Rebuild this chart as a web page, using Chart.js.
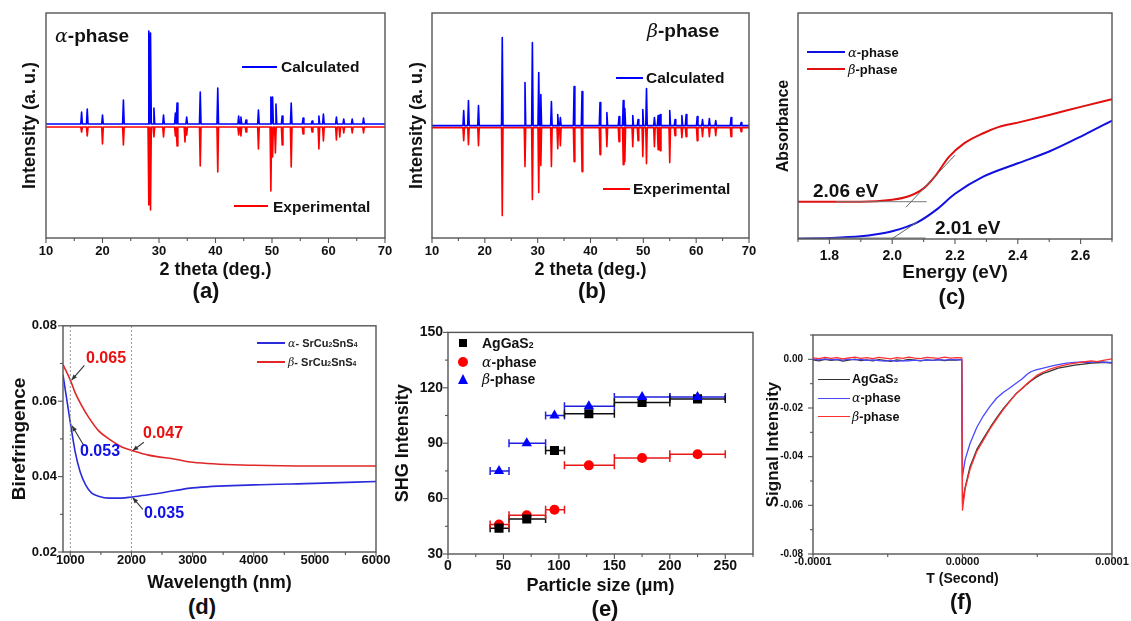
<!DOCTYPE html>
<html><head><meta charset="utf-8">
<script src="https://cdn.jsdelivr.net/npm/chart.js@4.4.1/dist/chart.umd.min.js"></script>
<style>
body{margin:0;width:1131px;height:621px;background:#fff;position:relative;overflow:hidden;font-family:'Liberation Sans',Arial,sans-serif}
canvas{position:absolute}
.t{position:absolute;white-space:nowrap;font-weight:bold;line-height:1;color:#111}
.g{font-family:'DejaVu Serif',serif;font-style:italic;font-weight:normal}
.s{font-size:0.62em}
.ln{position:absolute;height:0;border-top:2px solid}
.pl{position:absolute;font-weight:bold;font-size:22px;line-height:1;transform:translateX(-50%);color:#111}
</style></head><body>
<canvas id="ca" width="382" height="278" style="left:19px;top:3px"></canvas>
<canvas id="cb" width="359" height="278" style="left:406px;top:3px"></canvas>
<canvas id="cc" width="355" height="281" style="left:774px;top:3px"></canvas>
<canvas id="cd" width="388" height="282" style="left:8px;top:312px"></canvas>
<canvas id="ce" width="379" height="278" style="left:392px;top:319px"></canvas>
<canvas id="cf" width="368" height="269" style="left:763px;top:319px"></canvas>

<!-- (a) -->
<div class="t" style="left:55px;top:25.6px;font-size:19px"><span class="g">α</span>-phase</div>
<div class="ln" style="left:242px;top:66px;width:35px;border-color:#0000ff"></div>
<div class="t" style="left:281px;top:58.6px;font-size:15.5px">Calculated</div>
<div class="ln" style="left:234px;top:205px;width:34px;border-color:#ff0000"></div>
<div class="t" style="left:273px;top:198.6px;font-size:15.5px">Experimental</div>
<!-- (b) -->
<div class="t" style="left:647px;top:21.2px;font-size:19px"><span class="g">β</span>-phase</div>
<div class="ln" style="left:616px;top:76.7px;width:27px;border-color:#0000ff"></div>
<div class="t" style="left:646px;top:69.6px;font-size:15.5px">Calculated</div>
<div class="ln" style="left:603px;top:188px;width:27px;border-color:#ff0000"></div>
<div class="t" style="left:633px;top:180.9px;font-size:15.5px">Experimental</div>
<!-- (c) -->
<div class="ln" style="left:807px;top:50.7px;width:38px;border-color:#1010e0"></div>
<div class="t" style="left:848px;top:45.5px;font-size:13px"><span class="g">α</span>-phase</div>
<div class="ln" style="left:807px;top:68px;width:38px;border-color:#e01010"></div>
<div class="t" style="left:848px;top:62.8px;font-size:13px"><span class="g">β</span>-phase</div>
<div class="t" style="left:813px;top:181.2px;font-size:19px">2.06 eV</div>
<div class="t" style="left:935px;top:218.2px;font-size:19px">2.01 eV</div>
<!-- (d) -->
<div class="ln" style="left:257px;top:342px;width:28px;border-color:#2b2bdb"></div>
<div class="t" style="left:288px;top:337.7px;font-size:11px;color:#222"><span class="g">α</span>- SrCu<span class="s">2</span>SnS<span class="s">4</span></div>
<div class="ln" style="left:257px;top:361px;width:28px;border-color:#e02828"></div>
<div class="t" style="left:288px;top:356.7px;font-size:11px;color:#222"><span class="g">β</span>- SrCu<span class="s">2</span>SnS<span class="s">4</span></div>
<div class="t" style="left:86px;top:350px;font-size:16px;color:#e81010">0.065</div>
<div class="t" style="left:143px;top:425px;font-size:16px;color:#e81010">0.047</div>
<div class="t" style="left:80px;top:443px;font-size:16px;color:#1010e8">0.053</div>
<div class="t" style="left:144px;top:505px;font-size:16px;color:#1010e8">0.035</div>
<!-- (e) -->
<div style="position:absolute;left:459px;top:339px;width:8px;height:8px;background:#000"></div>
<div class="t" style="left:482px;top:336.3px;font-size:14px">AgGaS<span class="s">2</span></div>
<div style="position:absolute;left:458px;top:357px;width:10px;height:10px;border-radius:50%;background:#ff0000"></div>
<div class="t" style="left:482px;top:355.3px;font-size:14px"><span class="g">α</span>-phase</div>
<div style="position:absolute;left:458px;top:374px;width:0;height:0;border-left:5.5px solid transparent;border-right:5.5px solid transparent;border-bottom:10px solid #0000ff"></div>
<div class="t" style="left:482px;top:372.3px;font-size:14px"><span class="g">β</span>-phase</div>
<!-- (f) -->
<div class="ln" style="left:818px;top:378.5px;width:32px;border-color:#333;border-top-width:1.5px"></div>
<div class="t" style="left:852px;top:373.3px;font-size:12.5px">AgGaS<span class="s">2</span></div>
<div class="ln" style="left:818px;top:397.5px;width:32px;border-color:#4848ff;border-top-width:1.5px"></div>
<div class="t" style="left:852px;top:392.3px;font-size:12.5px"><span class="g">α</span>-phase</div>
<div class="ln" style="left:818px;top:416px;width:32px;border-color:#ff3030;border-top-width:1.5px"></div>
<div class="t" style="left:852px;top:410.7px;font-size:12.5px"><span class="g">β</span>-phase</div>
<!-- panel labels -->
<div class="pl" style="left:206px;top:280px">(a)</div>
<div class="pl" style="left:592px;top:280px">(b)</div>
<div class="pl" style="left:952px;top:286px">(c)</div>
<div class="pl" style="left:202px;top:596px">(d)</div>
<div class="pl" style="left:605px;top:598px">(e)</div>
<div class="pl" style="left:961px;top:591px">(f)</div>

<script>
// ---------------- DATA ----------------
// (a) alpha-phase XRD peaks: 2theta positions and heights (arb. units)
const aCalcPos = [16.3,17.3,20.0,23.7,28.2,28.5,29.1,30.8,32.9,33.2,34.9,37.3,40.4,44.1,44.5,45.4,47.6,49.8,50.1,50.7,51.8,53.4,55.5,57.1,58.3,59.1,61.4,62.7,64.2,66.2];
const aCalcInt = [12,15,9,24,93,91,16,9,11,21,7,32,36,8,7,4,14,27,27,20,8,21,6,3,8,10,7,5,5,6];
const aExpPos  = [16.3,17.3,20.0,23.7,28.2,28.5,29.1,30.8,32.9,33.2,34.6,34.9,37.3,40.4,44.1,44.5,45.4,47.6,49.8,50.1,50.6,51.8,53.4,55.5,57.1,58.3,59.1,61.4,62.0,62.7,64.2,66.2];
const aExpInt  = [5,9,17,18,78,83,10,10,9,19,15,8,39,45,8,9,5,22,64,30,26,18,40,7,5,22,14,13,10,6,6,6];
// (b) beta-phase XRD peaks
const bPos     = [16.0,16.9,18.8,23.3,27.6,29.0,30.2,30.6,32.6,33.8,34.3,36.9,38.4,41.8,43.1,45.4,46.2,46.5,48.0,49.0,49.9,50.6,52.1,52.8,53.2,55.0,56.0,57.3,58.1,60.2,61.2,62.5,63.7,66.6,68.5];
const bCalcInt = [15,25,20,88,43,83,53,31,24,11,8,39,34,23,13,9,25,17,10,6,16,37,8,10,11,15,6,10,11,9,6,7,5,8,3];
const bExpInt  = [13,17,18,88,39,72,65,38,39,21,18,34,44,27,19,14,37,34,19,13,29,36,19,22,23,35,8,10,9,13,9,9,8,9,4];
const xrdTicks = [10,20,30,40,50,60,70];
const xrdMinor = [15,25,35,45,55,65];
// (c) absorbance vs energy
const cBetaE  = [1.70,1.90,2.00,2.05,2.10,2.14,2.18,2.23,2.29,2.34,2.40,2.50,2.61,2.70];
const cBetaA  = [0.165,0.165,0.174,0.188,0.224,0.284,0.362,0.424,0.468,0.496,0.515,0.549,0.588,0.618];
const cAlphaE = [1.70,1.80,1.90,1.95,2.00,2.05,2.08,2.14,2.20,2.29,2.40,2.50,2.61,2.70];
const cAlphaA = [0.0015,0.0044,0.0118,0.0206,0.034,0.056,0.0735,0.129,0.200,0.276,0.335,0.387,0.460,0.524];
const cBetaBaseE = [1.82,2.11],  cBetaBaseA = [0.165,0.165];
const cBetaTanE  = [2.044,2.20], cBetaTanA  = [0.141,0.371];
const cAlphaBaseE = [1.70,2.106], cAlphaBaseA = [0.0044,0.0044];
const cAlphaTanE  = [1.998,2.078], cAlphaTanA = [0.0,0.0735];
const cTicks = [1.8,2.0,2.2,2.4,2.6];
const cMinor = [1.7,1.9,2.1,2.3,2.5,2.7];
// (d) birefringence vs wavelength
const dWaveAlpha = [880,1000,1080,1160,1250,1350,1460,1630,1850,2000,2280,2720,3000,4000,5000,6000];
const dAlpha     = [0.0670,0.0543,0.0465,0.0413,0.0378,0.0356,0.0348,0.0343,0.0343,0.0346,0.0352,0.0363,0.0370,0.0378,0.0382,0.0387];
const dWaveBeta  = [880,1000,1080,1190,1300,1460,1630,1850,2000,2280,2720,3000,4000,5000,6000];
const dBeta      = [0.0697,0.0656,0.0622,0.0587,0.0557,0.0522,0.0500,0.0478,0.0470,0.0457,0.0446,0.0438,0.0430,0.0428,0.0428];
const dMarks = [1000,2000];
const dArrows = [ // [fromX, fromY, toX, toY]
  [1230,0.0695,1020,0.0656],
  [1218,0.0483,1028,0.0535],
  [2202,0.0491,2021,0.0469],
  [2186,0.0313,2021,0.0344]
];
const dXTicks = [1000,2000,3000,4000,5000,6000], dXMinor = [1500,2500,3500,4500,5500];
const dYTicks = [0.02,0.04,0.06,0.08], dYMinor = [0.03,0.05,0.07];
// (e) SHG intensity vs particle size
const eSize = [46,71,96,127,175,225];
const eLow  = [38,55,88,105,150,200];
const eHigh = [55,88,105,150,200,250];
const eAgGaS2 = [44,49,86,106,112,114];
const eAlpha  = [46,51,54,78,82,84];
const eBeta   = [75,90,105,110,115,115];
const eXTicks = [0,50,100,150,200,250], eXMinor = [25,75,125,175,225,275];
const eYTicks = [30,60,90,120,150], eYMinor = [45,75,105,135];
// (f) signal intensity vs time (time in microseconds)
const fTimeUs = [-100,-96,-92,-88,-84,-80,-76,-72,-68,-64,-60,-56,-52,-48,-44,-40,-36,-32,-28,-24,-20,-16,-12,-8,-4,-0.5,
                 0,1.8,5.1,9.6,14.0,18.5,22.9,27.4,31.8,36.3,40,43.0,46,49.7,54,58.6,64,69.7,75,80.8,86,90,95,100];
const fAgGaS2 = [-0.0002,-0.0006,0.0000,-0.0004,-0.0001,-0.0007,-0.0003,0.0001,-0.0005,-0.0002,-0.0006,-0.0001,-0.0004,-0.0008,-0.0002,-0.0005,0.0000,-0.0003,-0.0006,-0.0002,-0.0004,-0.0001,-0.0005,-0.0002,-0.0003,0.0000,
                 -0.0592,-0.0525,-0.0440,-0.0370,-0.0325,-0.0280,-0.0240,-0.0202,-0.0170,-0.0138,-0.0120,-0.0103,-0.0088,-0.0072,-0.0058,-0.0048,-0.0036,-0.0030,-0.0024,-0.0020,-0.0016,-0.0014,-0.0012,-0.0015];
const fAlpha  = [0.0001,-0.0002,0.0002,-0.0001,0.0000,-0.0003,0.0001,-0.0002,0.0000,-0.0004,-0.0002,-0.0005,-0.0007,-0.0004,-0.0008,-0.0005,-0.0006,-0.0003,-0.0005,-0.0002,-0.0004,-0.0001,-0.0003,0.0000,-0.0002,-0.0001,
                 -0.0480,-0.0411,-0.0345,-0.0279,-0.0232,-0.0192,-0.0159,-0.0135,-0.0117,-0.0096,-0.0080,-0.0062,-0.0050,-0.0042,-0.0036,-0.0029,-0.0022,-0.0016,-0.0013,-0.0011,-0.0012,-0.0009,-0.0012,-0.0013];
const fBeta   = [0.0006,0.0003,0.0008,0.0004,0.0007,0.0002,0.0006,0.0009,0.0004,0.0007,0.0003,0.0008,0.0005,0.0002,0.0007,0.0004,0.0009,0.0005,0.0003,0.0008,0.0006,0.0004,0.0009,0.0005,0.0007,0.0006,
                 -0.0620,-0.0531,-0.0451,-0.0378,-0.0332,-0.0285,-0.0245,-0.0206,-0.0172,-0.0139,-0.0118,-0.0100,-0.0085,-0.0066,-0.0052,-0.0040,-0.0030,-0.0022,-0.0016,-0.0011,-0.0006,-0.0009,-0.0003,0.0002];
const fXTicks = [-0.0001,0,0.0001], fXMinor = [-0.00005,0.00005];
const fYTicks = [-0.08,-0.06,-0.04,-0.02,0.00], fYMinor = [-0.07,-0.05,-0.03,-0.01,0.01];

// ---------------- RENDERING ----------------
const FONT = "'Liberation Sans', Arial, Helvetica, sans-serif";
Chart.defaults.font.family = FONT;
Chart.defaults.animation = false;
Chart.defaults.responsive = false;
Chart.defaults.plugins.legend.display = false;
Chart.defaults.plugins.tooltip.enabled = false;
Chart.defaults.elements.point.radius = 0;

const pts = (xs, ys) => xs.map((x, i) => ({x, y: ys[i]}));
const SPIKE_W = 0.14;
function spikes(pos, h, base, sign) {
  const p = [{x: 10, y: base}];
  pos.forEach((c, i) => { p.push({x: c - SPIKE_W, y: base}, {x: c, y: base + sign * h[i]}, {x: c + SPIKE_W, y: base}); });
  p.push({x: 70, y: base});
  return p;
}
function axX(o) {
  return {type: 'linear', position: 'bottom', min: o.min, max: o.max,
    afterFit: s => { s.height = o.size; },
    afterBuildTicks: s => { s.ticks = (o.ticks || []).map(v => ({value: v})); },
    grid: {display: false, drawTicks: false}, border: {display: false},
    ticks: {display: !!o.ticks, padding: o.pad || 0, autoSkip: false, maxRotation: 0, color: '#111',
      font: {size: o.fs || 12, weight: 'bold'}, callback: o.fmt || (v => v)},
    title: {display: true, text: o.title, color: '#111', padding: 0, font: {size: o.tfs, weight: 'bold'}}};
}
function axY(o) {
  return {type: 'linear', position: 'left', min: o.min, max: o.max,
    afterFit: s => { s.width = o.size; },
    afterBuildTicks: s => { s.ticks = (o.ticks || []).map(v => ({value: v})); },
    grid: {display: false, drawTicks: false}, border: {display: false},
    ticks: {display: !!o.ticks, padding: o.pad || 0, autoSkip: false, color: '#111',
      font: {size: o.fs || 12, weight: 'bold'}, callback: o.fmt || (v => v)},
    title: {display: true, text: o.title, color: '#111', padding: 0, font: {size: o.tfs, weight: 'bold'}}};
}
function frame(t) {
  return {id: 'frame', afterDatasetsDraw(chart) {
    const {ctx, chartArea: a, scales: {x, y}} = chart;
    ctx.save();
    ctx.strokeStyle = '#555'; ctx.lineWidth = 1.4;
    ctx.strokeRect(a.left, a.top, a.right - a.left, a.bottom - a.top);
    ctx.lineWidth = 1.1;
    const tk = (vals, len, hz) => (vals || []).forEach(v => {
      ctx.beginPath();
      if (hz) { const p = x.getPixelForValue(v); ctx.moveTo(p, a.bottom); ctx.lineTo(p, a.bottom + len); }
      else { const p = y.getPixelForValue(v); ctx.moveTo(a.left, p); ctx.lineTo(a.left - len, p); }
      ctx.stroke();
    });
    tk(t.xMaj, 5, true); tk(t.xMin, 3, true); tk(t.yMaj, 5, false); tk(t.yMin, 3, false);
    ctx.restore();
  }};
}
const layout = r => ({padding: {top: 10, right: r, left: 0, bottom: 0}});
const line = (data, color, w, extra) => Object.assign({data, borderColor: color, borderWidth: w, pointRadius: 0, fill: false, tension: 0, borderJoinStyle: 'round'}, extra || {});

// (a)
new Chart(document.getElementById('ca'), {type: 'line',
  data: {datasets: [
    line(spikes(aCalcPos, aCalcInt, 0, 1), '#0000ff', 1.6),
    line(spikes(aExpPos, aExpInt, -3, -1), '#ff0000', 1.6)]},
  options: {layout: layout(16), scales: {
    x: axX({min: 10, max: 70, size: 43, ticks: xrdTicks, pad: 6, fs: 13, title: '2 theta (deg.)', tfs: 18}),
    y: axY({min: -114, max: 111, size: 27, title: 'Intensity (a. u.)', tfs: 18})}},
  plugins: [frame({xMaj: xrdTicks, xMin: xrdMinor})]});

// (b)
new Chart(document.getElementById('cb'), {type: 'line',
  data: {datasets: [
    line(spikes(bPos, bCalcInt, 0, 1), '#0000ff', 1.6),
    line(spikes(bPos, bExpInt, -2, -1), '#ff0000', 1.6)]},
  options: {layout: layout(16), scales: {
    x: axX({min: 10, max: 70, size: 43, ticks: xrdTicks, pad: 6, fs: 13, title: '2 theta (deg.)', tfs: 18}),
    y: axY({min: -112.4, max: 112.6, size: 26, title: 'Intensity (a. u.)', tfs: 18})}},
  plugins: [frame({xMaj: xrdTicks, xMin: xrdMinor})]});

// (c)
new Chart(document.getElementById('cc'), {type: 'line',
  data: {datasets: [
    line(pts(cBetaTanE, cBetaTanA), '#666', 1),
    line(pts(cAlphaTanE, cAlphaTanA), '#666', 1),
    line(pts(cBetaBaseE, cBetaBaseA), '#777', 1),
    line(pts(cAlphaBaseE, cAlphaBaseA), '#777', 1),
    line(pts(cBetaE, cBetaA), '#e01010', 2, {cubicInterpolationMode: 'monotone'}),
    line(pts(cAlphaE, cAlphaA), '#1010e0', 2, {cubicInterpolationMode: 'monotone'})]},
  options: {layout: layout(17), scales: {
    x: axX({min: 1.7, max: 2.7, size: 45, ticks: cTicks, pad: 9, fs: 14, fmt: v => v.toFixed(1), title: 'Energy (eV)', tfs: 19}),
    y: axY({min: 0, max: 1, size: 24, title: 'Absorbance', tfs: 16})}},
  plugins: [frame({xMaj: cTicks, xMin: cMinor})]});

// (d)
const arrowPlugin = {id: 'arrows', afterDatasetsDraw(chart) {
  const {ctx, scales: {x, y}} = chart;
  ctx.save(); ctx.strokeStyle = '#333'; ctx.fillStyle = '#333'; ctx.lineWidth = 1.1;
  dArrows.forEach(([fx, fy, tx, ty]) => {
    const x1 = x.getPixelForValue(fx), y1 = y.getPixelForValue(fy), x2 = x.getPixelForValue(tx), y2 = y.getPixelForValue(ty);
    const ang = Math.atan2(y2 - y1, x2 - x1);
    ctx.beginPath(); ctx.moveTo(x1, y1); ctx.lineTo(x2, y2); ctx.stroke();
    ctx.beginPath(); ctx.moveTo(x2, y2);
    ctx.lineTo(x2 - 6 * Math.cos(ang - 0.4), y2 - 6 * Math.sin(ang - 0.4));
    ctx.lineTo(x2 - 6 * Math.cos(ang + 0.4), y2 - 6 * Math.sin(ang + 0.4));
    ctx.closePath(); ctx.fill();
  });
  ctx.restore();
}};
new Chart(document.getElementById('cd'), {type: 'line',
  data: {datasets: [
    ...dMarks.map(m => line([{x: m, y: 0.02}, {x: m, y: 0.08}], '#999', 1, {borderDash: [2, 2]})),
    line(pts(dWaveBeta, dBeta), '#e02828', 1.6, {cubicInterpolationMode: 'monotone'}),
    line(pts(dWaveAlpha, dAlpha), '#2b2bdb', 1.6, {cubicInterpolationMode: 'monotone'})]},
  options: {layout: layout(20), scales: {
    x: axX({min: 880, max: 6000, size: 42, ticks: dXTicks, pad: 1, fs: 13, title: 'Wavelength (nm)', tfs: 18}),
    y: axY({min: 0.02, max: 0.08, size: 55, ticks: dYTicks, pad: 6, fs: 13, fmt: v => v.toFixed(2), title: 'Birefringence', tfs: 19})}},
  plugins: [frame({xMaj: dXTicks, xMin: dXMinor, yMaj: dYTicks, yMin: dYMinor}), arrowPlugin]});

// (e)
const errPlugin = {id: 'xerr', beforeDatasetsDraw(chart) {
  const {ctx, scales: {x, y}} = chart;
  ctx.save(); ctx.lineWidth = 1.5;
  chart.data.datasets.forEach(ds => {
    ctx.strokeStyle = ds.barColor;
    ds.data.forEach((p, i) => {
      const py = y.getPixelForValue(p.y), xl = x.getPixelForValue(ds.xLow[i]), xh = x.getPixelForValue(ds.xHigh[i]);
      ctx.beginPath();
      ctx.moveTo(xl, py); ctx.lineTo(xh, py);
      ctx.moveTo(xl, py - 4); ctx.lineTo(xl, py + 4);
      ctx.moveTo(xh, py - 4); ctx.lineTo(xh, py + 4);
      ctx.stroke();
    });
  });
  ctx.restore();
}};
const sc = (ys, color, barColor, style, r) => ({data: pts(eSize, ys), xLow: eLow, xHigh: eHigh, barColor,
  pointStyle: style, pointRadius: r, backgroundColor: color, borderColor: color, borderWidth: 0});
new Chart(document.getElementById('ce'), {type: 'scatter',
  data: {datasets: [
    sc(eBeta, '#0000ff', '#2020e0', 'triangle', 6),
    sc(eAgGaS2, '#000000', '#111111', 'rect', 6.4),
    sc(eAlpha, '#ff0000', '#e81818', 'circle', 5)]},
  options: {layout: layout(18), scales: {
    x: axX({min: 0, max: 275, size: 43, ticks: eXTicks, pad: 4, fs: 14, title: 'Particle size (μm)', tfs: 18}),
    y: axY({min: 30, max: 150, size: 56, ticks: eYTicks, pad: 5, fs: 14, title: 'SHG Intensity', tfs: 18})}},
  plugins: [errPlugin, frame({xMaj: eXTicks, xMin: eXMinor, yMaj: eYTicks, yMin: eYMinor})]});

// (f)
const fTime = fTimeUs.map(t => t * 1e-6);
new Chart(document.getElementById('cf'), {type: 'line',
  data: {datasets: [
    line(pts(fTime, fBeta), '#ff3030', 1.3),
    line(pts(fTime, fAlpha), '#4848ff', 1.3),
    line(pts(fTime, fAgGaS2), '#333333', 1.3)]},
  options: {layout: layout(19), scales: {
    x: axX({min: -0.0001, max: 0.0001, size: 34, ticks: fXTicks, pad: 1, fs: 11, fmt: v => (Math.abs(v) < 1e-12 ? 0 : v).toFixed(4), title: 'T (Second)', tfs: 14}),
    y: axY({min: -0.08, max: 0.01, size: 50, ticks: fYTicks, pad: 10, fs: 10, fmt: v => (Math.abs(v) < 1e-12 ? 0 : v).toFixed(2), title: 'Signal Intensity', tfs: 17})}},
  plugins: [frame({xMaj: fXTicks, xMin: fXMinor, yMaj: fYTicks, yMin: fYMinor})]});
</script>
</body></html>
